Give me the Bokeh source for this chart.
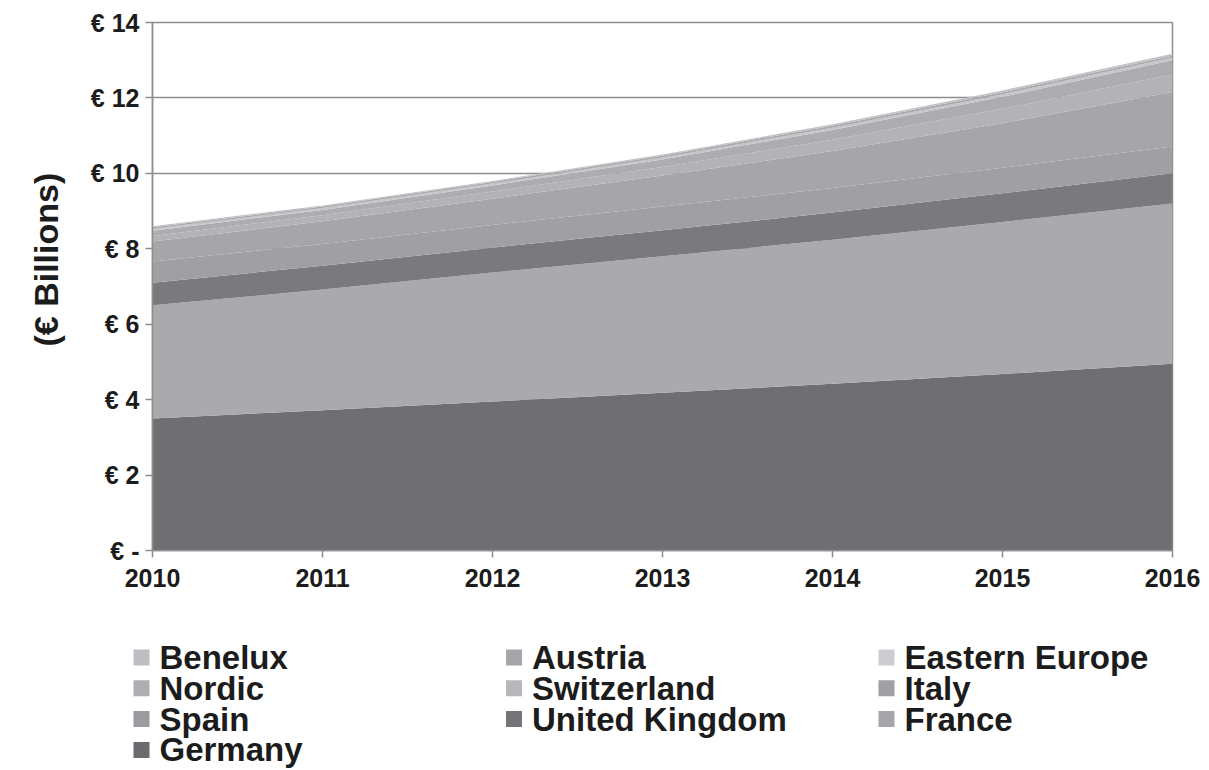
from bokeh.plotting import figure
from bokeh.layouts import column, row
from bokeh.models import Range1d, FixedTicker, ColumnDataSource, Title
from bokeh.core.properties import value
from bokeh.embed import file_html
from bokeh.resources import INLINE

# Market size by country, € billions (stacked bottom -> top)
years = [2010, 2011, 2012, 2013, 2014, 2015, 2016]
germany = [3.50, 3.72, 3.95, 4.18, 4.42, 4.68, 4.95]
france = [3.00, 3.20, 3.42, 3.62, 3.82, 4.03, 4.25]
united_kingdom = [0.60, 0.63, 0.66, 0.69, 0.72, 0.76, 0.80]
spain = [0.56, 0.58, 0.60, 0.63, 0.65, 0.68, 0.71]
italy = [0.53, 0.60, 0.70, 0.82, 0.98, 1.18, 1.45]
switzerland = [0.15, 0.16, 0.19, 0.23, 0.30, 0.38, 0.46]
nordic = [0.14, 0.14, 0.16, 0.20, 0.26, 0.32, 0.38]
eastern_europe = [0.05, 0.05, 0.05, 0.05, 0.06, 0.07, 0.07]
austria = [0.04, 0.04, 0.04, 0.05, 0.05, 0.05, 0.05]
benelux = [0.03, 0.03, 0.03, 0.03, 0.04, 0.05, 0.05]

series_names = ["Germany", "France", "United Kingdom", "Spain", "Italy",
                "Switzerland", "Nordic", "Eastern Europe", "Austria", "Benelux"]
series_values = [germany, france, united_kingdom, spain, italy,
                 switzerland, nordic, eastern_europe, austria, benelux]
area_colors = ["#6f6f73", "#aaaaae", "#7a7a7e", "#a0a0a4", "#a6a6aa",
               "#b3b3b7", "#adadb1", "#c6c6ca", "#a9a9ad", "#c2c2c6"]
swatch_colors = ["#6c6c70", "#a6a6aa", "#747478", "#9c9ca0", "#a0a0a4",
                 "#b8b8bc", "#afafb3", "#cdcdd1", "#a6a6aa", "#bebec2"]

y_ticks = [0, 2, 4, 6, 8, 10, 12, 14]
y_labels = ["€ -", "€ 2", "€ 4", "€ 6", "€ 8", "€ 10", "€ 12", "€ 14"]

FONT = "Liberation Sans"
GRID = "#8e8e8e"
INK = "#1c1c1c"

data = {"year": years}
for name, vals in zip(series_names, series_values):
    data[name] = vals
source = ColumnDataSource(data)

p = figure(width=1209, height=600, output_backend="svg", toolbar_location=None,
           x_range=Range1d(2010, 2016), y_range=Range1d(0, 14),
           min_border_left=152, min_border_right=37, min_border_top=22,
           min_border_bottom=50)

p.varea_stack(stackers=series_names, x="year", color=area_colors, source=source)

p.background_fill_color = "white"
p.border_fill_color = "white"
p.outline_line_color = GRID
p.outline_line_width = 1.5

p.xgrid.visible = False
p.ygrid.grid_line_color = GRID
p.ygrid.grid_line_width = 1.5
p.ygrid.level = "underlay"

p.yaxis.ticker = FixedTicker(ticks=y_ticks)
p.yaxis.major_label_overrides = {t: lab for t, lab in zip(y_ticks, y_labels)}
p.xaxis.ticker = FixedTicker(ticks=years)
p.xaxis.major_label_overrides = {y: str(y) for y in years}

for ax in (p.xaxis, p.yaxis):
    ax.axis_line_color = GRID
    ax.axis_line_width = 1.5
    ax.major_tick_line_color = GRID
    ax.major_tick_line_width = 1.5
    ax.major_tick_in = 0
    ax.major_tick_out = 7
    ax.minor_tick_line_color = None
    ax.major_label_text_font = FONT
    ax.major_label_text_font_style = "bold"
    ax.major_label_text_font_size = "25px"
    ax.major_label_text_color = INK

p.xaxis.major_label_standoff = 11
p.yaxis.major_label_standoff = 6

# vertical unit label, sitting a little above the middle of the plot area
p.add_layout(Title(text="(€ Billions)", align="left", offset=204, standoff=46,
                   text_font=FONT, text_font_style="bold", text_font_size="34px",
                   text_color=INK), "left")

# Legend panel: three columns, filled row by row from the top series down
legend_names = list(reversed(series_names))
legend_colors = list(reversed(swatch_colors))
ncols = 3
col_step = 372.5
row_step = 30.8
lx, ly, lt = [], [], []
for i, name in enumerate(legend_names):
    c, r = i % ncols, i // ncols
    lx.append(141 + c * col_step)
    ly.append(57 + r * row_step)
    lt.append(159 + c * col_step)

leg_src = ColumnDataSource(dict(x=lx, y=ly, tx=lt, name=legend_names, color=legend_colors))
lg = figure(width=1209, height=170, output_backend="svg", toolbar_location=None,
            x_range=Range1d(0, 1209), y_range=Range1d(170, 0),
            min_border=0)
lg.axis.visible = False
lg.grid.visible = False
lg.outline_line_color = None
lg.rect(x="x", y="y", width=16, height=16, width_units="screen", height_units="screen",
        fill_color="color", line_color=None, source=leg_src)
lg.text(x="tx", y="y", text="name", source=leg_src, text_font=value(FONT),
        text_font_style="bold", text_font_size="33px", text_baseline="middle",
        text_color=INK)

layout = column(p, row(lg), spacing=0)
open("out.html", "w").write(file_html(layout, INLINE))
